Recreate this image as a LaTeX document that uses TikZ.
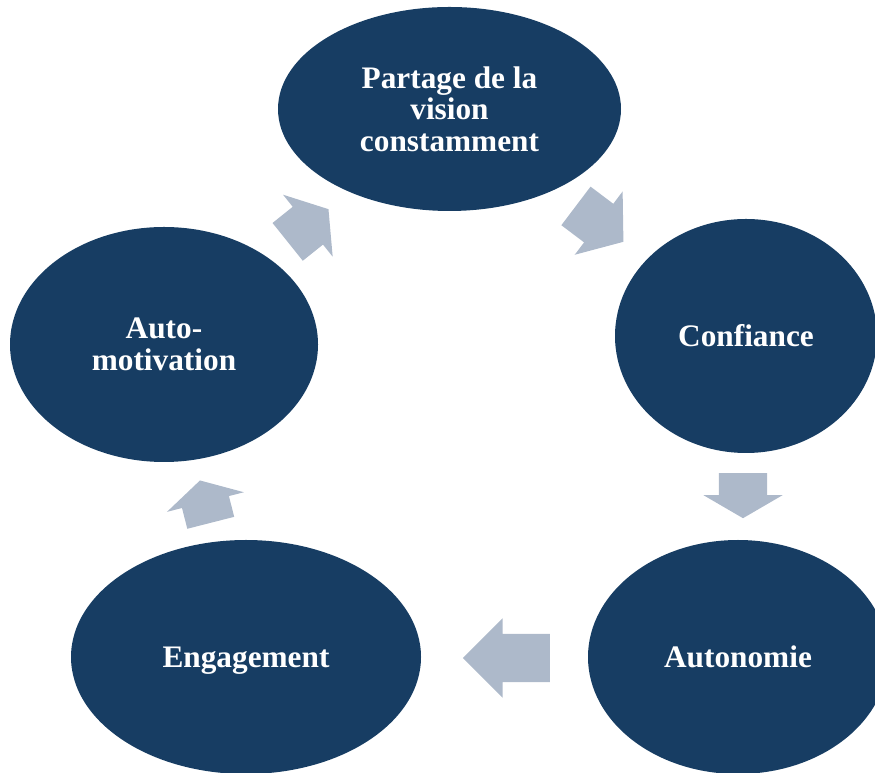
\documentclass[tikz,border=0pt]{standalone}
\usepackage{fontspec}
\setmainfont{Liberation Serif}
\usetikzlibrary{shapes.geometric,shapes.arrows}
\definecolor{ovalblue}{RGB}{23,61,99}
\definecolor{arrowgray}{RGB}{173,185,202}
\begin{document}
\begin{tikzpicture}[x=1pt,y=1pt,
  oval/.style={ellipse, fill=ovalblue, draw=none, inner sep=0pt, text=white,
    align=center, font=\fontsize{31.3}{31.5}\selectfont\bfseries},
  blockarrow/.style={single arrow, fill=arrowgray, draw=none, inner xsep=0pt,
    inner ysep=24pt, single arrow head extend=15.5pt, single arrow head indent=0pt,
    minimum width=0pt, anchor=tail}
]
\useasboundingbox (0,0) rectangle (875,773);
\node[oval, minimum width=343pt, minimum height=204pt] (partage) at (449.5,664) {Partage de la\\vision\\constamment};
\node[oval, minimum width=262pt, minimum height=234pt] (confiance) at (746,437) {Confiance};
\node[oval, minimum width=300pt, minimum height=234pt] (autonomie) at (738,116) {Autonomie};
\node[oval, minimum width=350pt, minimum height=234pt, text depth=0pt] (engagement) at (246,116) {Engagement};
\node[oval, minimum width=308pt, minimum height=235pt] (motivation) at (164,428.5) {Auto-\\motivation};

\node[blockarrow, minimum height=59.5pt, single arrow tip angle=104, rotate=-37.1] (a1) at (575.8,567.2) {};
\node[blockarrow, minimum height=45pt, single arrow tip angle=119.6, rotate=-90] (a2) at (743,300) {};
\node[blockarrow, minimum height=87pt, single arrow tip angle=90, rotate=180] (a3) at (550,115) {};
\node[blockarrow, minimum height=43.7pt, single arrow tip angle=121.4, rotate=104.3] (a4) at (210.8,250) {};
\node[blockarrow, minimum height=52.3pt, single arrow tip angle=112.7, rotate=38.7] (a5) at (287.5,531) {};
\end{tikzpicture}
\end{document}
